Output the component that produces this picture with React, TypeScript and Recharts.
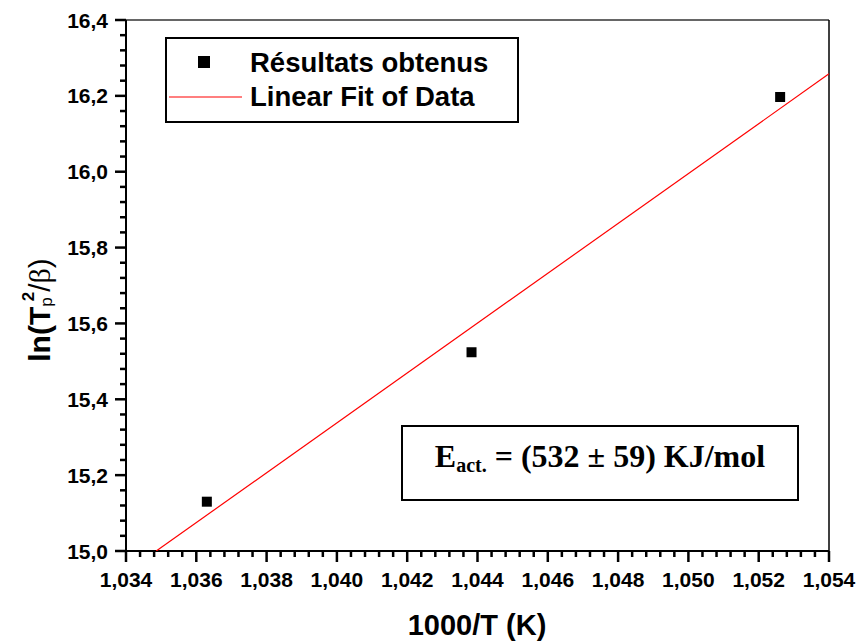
import React from 'react';
import { ScatterChart, Scatter, XAxis, YAxis, ReferenceLine } from 'recharts';

// ---- data ----
const invT = [1.0363, 1.04383, 1.05261];
const lnTp2Beta = [15.13, 15.524, 16.197];
const fitX = [1.03486, 1.054];
const fitY = [15.0, 16.258];

const xMajorTicks = [1.034, 1.036, 1.038, 1.04, 1.042, 1.044, 1.046, 1.048, 1.05, 1.052, 1.054];
const yMajorTicks = [15.0, 15.2, 15.4, 15.6, 15.8, 16.0, 16.2, 16.4];
const xMinorPerMajor = 5;
const yMinorPerMajor = 5;

const legendLabels = ['Résultats obtenus', 'Linear Fit of Data'];
const xTitle = '1000/T (K)';

const points = invT.map((x, i) => ({ x, y: lnTp2Beta[i] }));
const fitLine = fitX.map((x, i) => ({ x, y: fitY[i] }));

function subdivide(majors: number[], n: number): number[] {
  const out: number[] = [];
  for (let i = 0; i < majors.length - 1; i++) {
    const a = majors[i], b = majors[i + 1];
    for (let k = 0; k < n; k++) out.push(a + ((b - a) * k) / n);
  }
  out.push(majors[majors.length - 1]);
  return out;
}
const xTicks = subdivide(xMajorTicks, xMinorPerMajor);
const yTicks = subdivide(yMajorTicks, yMinorPerMajor);

const isMajor = (v: number, majors: number[]) => majors.some((m) => Math.abs(m - v) < 1e-7);

const SANS = '"Liberation Sans", Arial, Helvetica, sans-serif';
const SERIF = '"Liberation Serif", "Times New Roman", serif';

const XTick = (props: any) => {
  const { x, y, payload } = props;
  const v = payload.value as number;
  const major = isMajor(v, xMajorTicks);
  const len = major ? 11 : 6;
  return (
    <g>
      <line x1={x} y1={y} x2={x} y2={y + len} stroke="#000" strokeWidth={2.5} />
      {major && (
        <text x={x} y={y + 36} textAnchor="middle" fontFamily={SANS} fontWeight="bold" fontSize={21} fill="#000">
          {v.toFixed(3).replace('.', ',')}
        </text>
      )}
    </g>
  );
};

const YTick = (props: any) => {
  const { x, y, payload } = props;
  const v = payload.value as number;
  const major = isMajor(v, yMajorTicks);
  const len = major ? 11 : 6;
  return (
    <g>
      <line x1={x} y1={y} x2={x - len} y2={y} stroke="#000" strokeWidth={2.5} />
      {major && (
        <text x={x - 18} y={y + 7.5} textAnchor="end" fontFamily={SANS} fontWeight="bold" fontSize={21} fill="#000">
          {v.toFixed(1).replace('.', ',')}
        </text>
      )}
    </g>
  );
};

const Square = (props: any) => {
  const { cx, cy } = props;
  if (cx == null || cy == null) return null;
  return <rect x={cx - 5} y={cy - 5} width={10} height={10} fill="#000" />;
};

const Nothing = () => <g />;

export default function App() {
  return (
    <div style={{ position: 'absolute', left: 0, top: 0, width: 860, height: 643, background: '#fff' }}>
      <ScatterChart width={860} height={643} margin={{ top: 20, right: 31, bottom: 62, left: 96 }}>
        <XAxis
          type="number"
          dataKey="x"
          domain={[1.034, 1.054]}
          ticks={xTicks}
          interval={0}
          height={30}
          tickSize={0}
          tickMargin={0}
          tick={<XTick />}
          axisLine={{ stroke: '#000', strokeWidth: 2 }}
          tickLine={false}
          allowDataOverflow
        />
        <YAxis
          type="number"
          dataKey="y"
          domain={[15.0, 16.4]}
          ticks={yTicks}
          interval={0}
          width={30}
          tickSize={0}
          tickMargin={0}
          tick={<YTick />}
          axisLine={{ stroke: '#000', strokeWidth: 2 }}
          tickLine={false}
          allowDataOverflow
        />
        <ReferenceLine y={16.4} stroke="#333" strokeWidth={1.5} />
        <ReferenceLine x={1.054} stroke="#000" strokeWidth={1.5} />
        <Scatter
          data={fitLine}
          line={{ stroke: '#ff0000', strokeWidth: 1.2 }}
          shape={<Nothing />}
          isAnimationActive={false}
        />
        <Scatter data={points} shape={<Square />} fill="#000" isAnimationActive={false} />
      </ScatterChart>
      <svg
        width={860}
        height={643}
        style={{ position: 'absolute', left: 0, top: 0, pointerEvents: 'none' }}
      >
        <rect x={166} y={38} width={352} height={84} fill="none" stroke="#000" strokeWidth={2} />
        <rect x={198} y={56} width={12} height={12} fill="#000" />
        <line x1={169} y1={97} x2={242} y2={97} stroke="#ff0000" strokeWidth={1.2} />
        <text x={250} y={71.5} fontFamily={SANS} fontWeight="bold" fontSize={27.5} fill="#000">
          {legendLabels[0]}
        </text>
        <text x={250} y={106} fontFamily={SANS} fontWeight="bold" fontSize={27.5} fill="#000">
          {legendLabels[1]}
        </text>
        <rect x={402} y={426} width={396} height={74} fill="#fff" stroke="#000" strokeWidth={2} />
        <text x={600} y={467} textAnchor="middle" fontFamily={SERIF} fontWeight="bold" fontSize={32} fill="#000">
          E<tspan fontSize={20} dy={5}>act.</tspan>
          <tspan dy={-5}> = (532 ± 59) KJ/mol</tspan>
        </text>
        <text x={477} y={635} textAnchor="middle" fontFamily={SANS} fontWeight="bold" fontSize={29} fill="#000">
          {xTitle}
        </text>
        <text
          transform="translate(50,310) rotate(-90)"
          x={0}
          y={0}
          textAnchor="middle"
          fontFamily={SANS}
          fontWeight="bold"
          fontSize={30}
          fill="#000"
        >
          ln(T<tspan fontSize={17} fontWeight="normal" dy={2}>p</tspan>
          <tspan fontSize={17} dx={-4} dy={-18}>2</tspan>
          <tspan dy={16} fontWeight="normal">/</tspan>
          <tspan fontWeight="normal" fontFamily={SERIF}>β</tspan>
          <tspan fontWeight="normal">)</tspan>
        </text>
      </svg>
    </div>
  );
}
